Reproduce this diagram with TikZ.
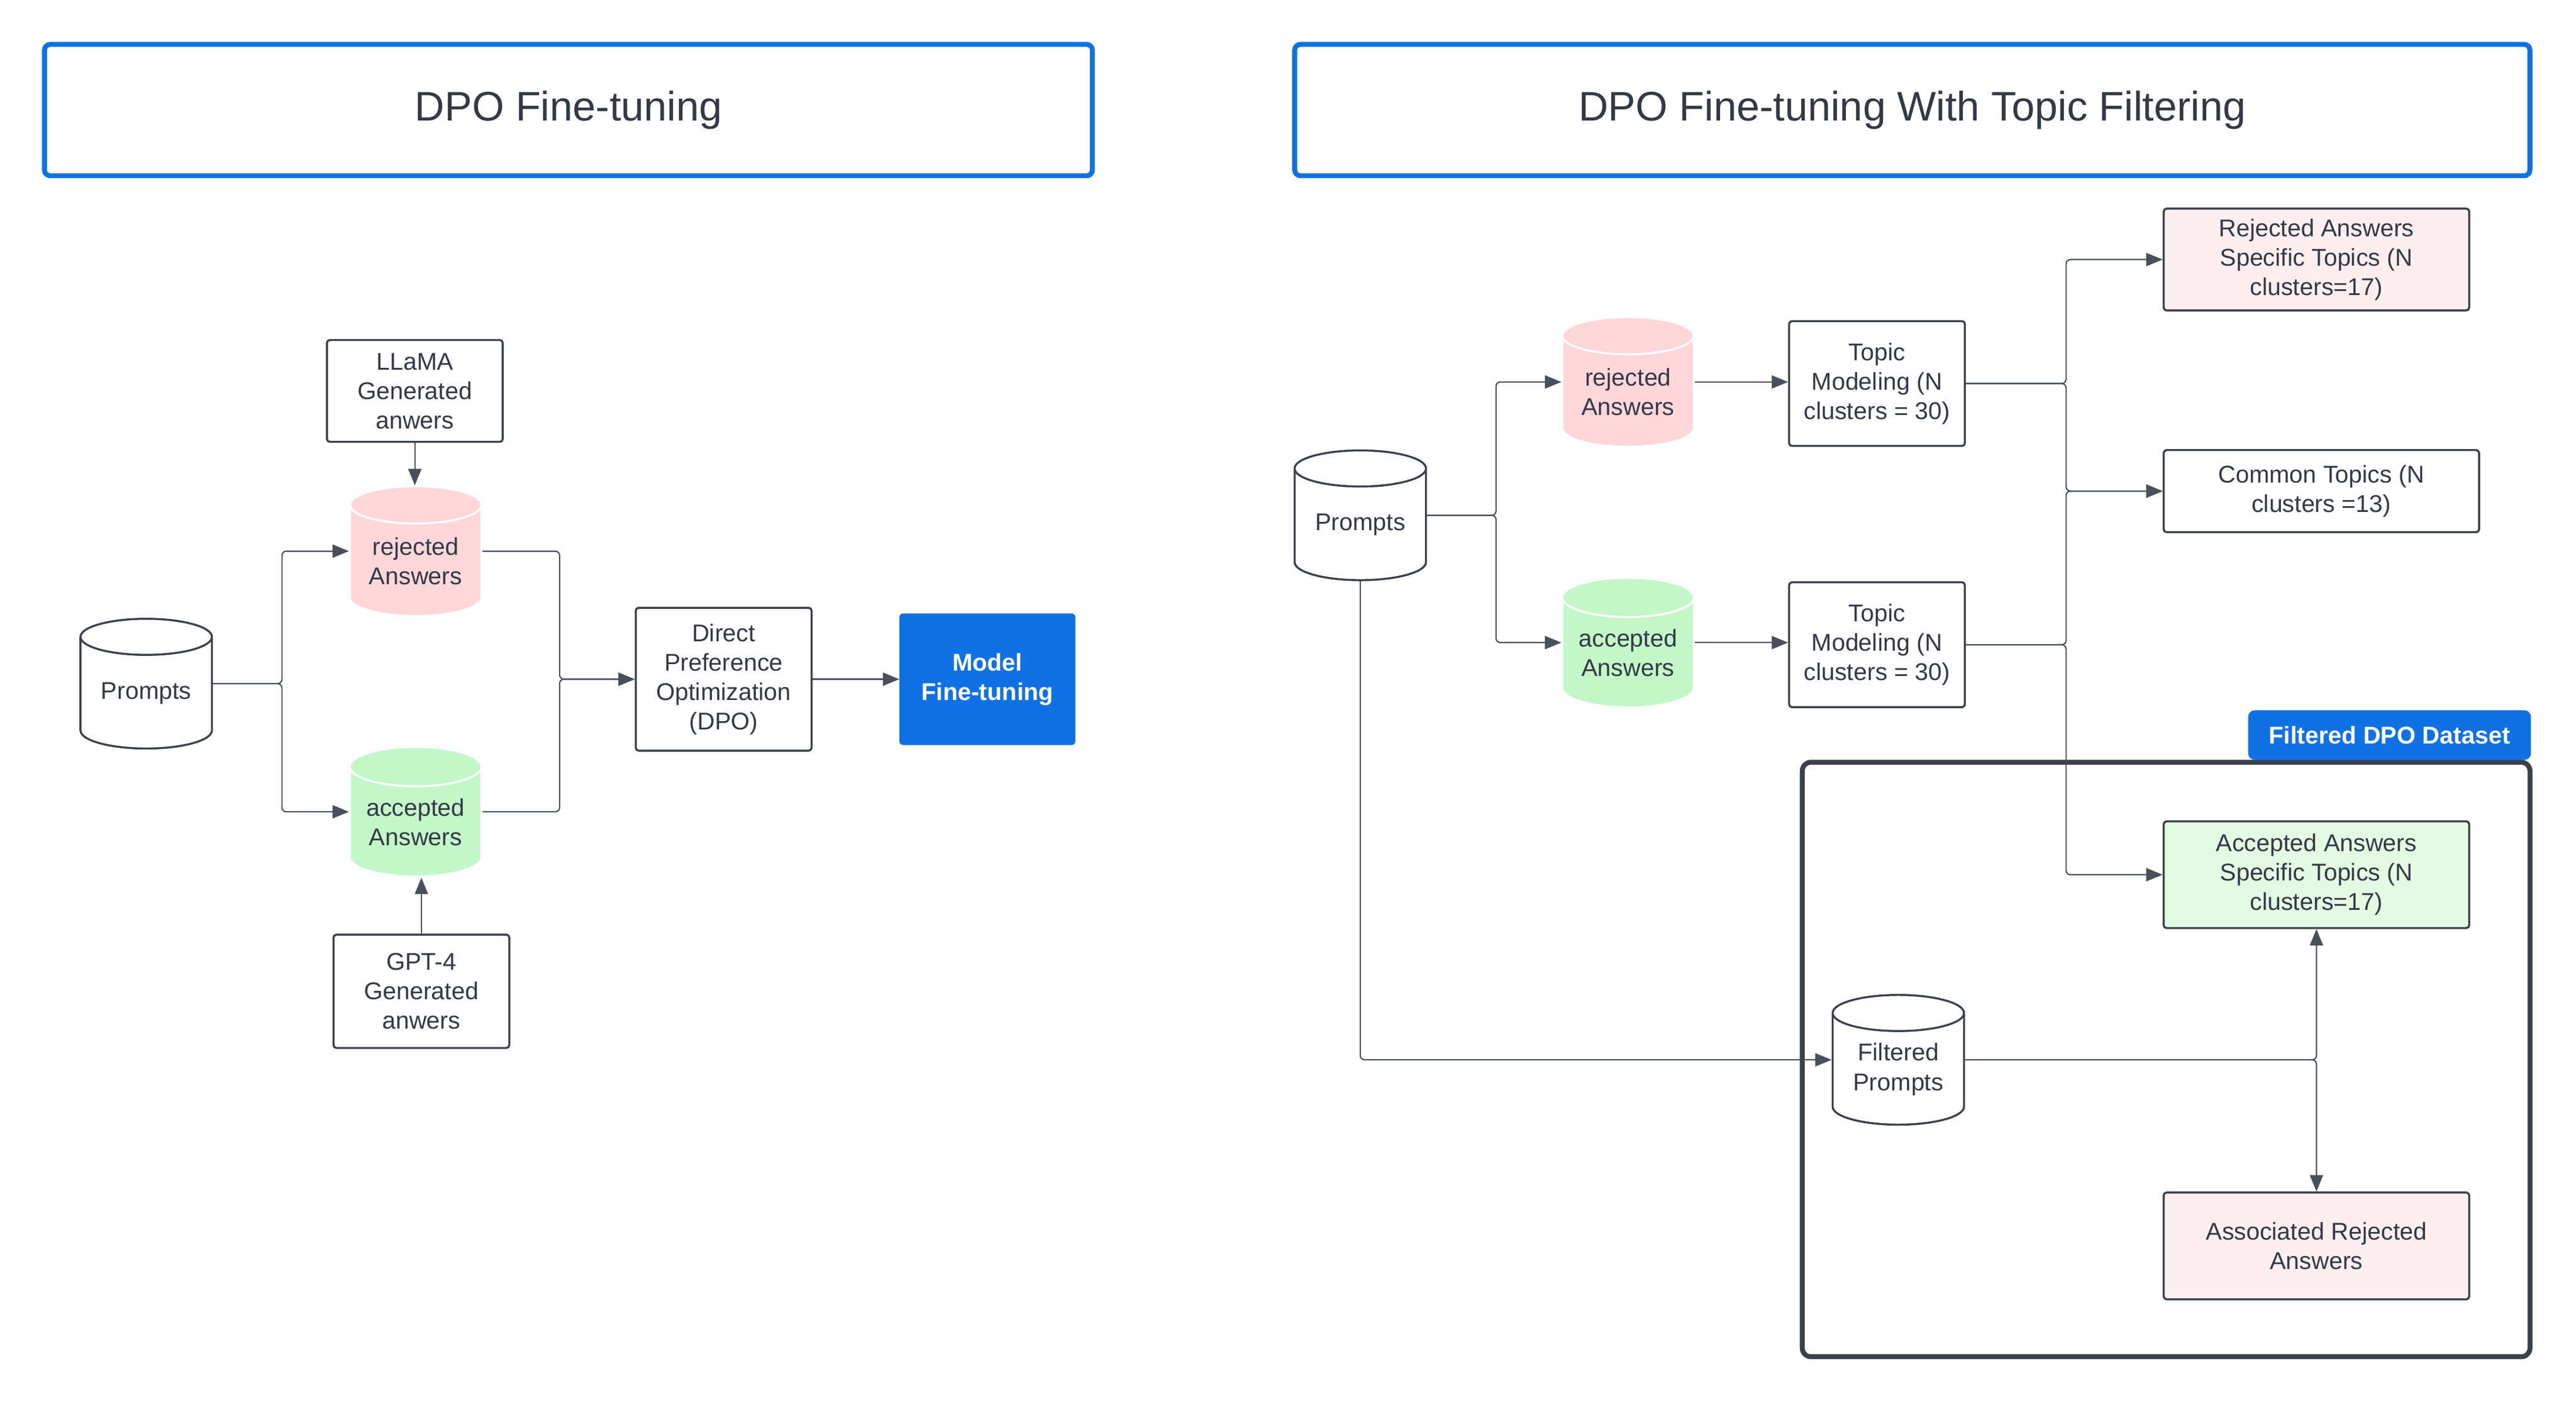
\documentclass[tikz,border=0pt]{standalone}
\usepackage{fontspec}
\setmainfont{Liberation Sans}
\usepackage{tikz}
\usetikzlibrary{arrows.meta,shapes.geometric}
\definecolor{lucidblue}{HTML}{1071E5}
\definecolor{textgray}{HTML}{333A45}
\definecolor{edgegray}{HTML}{3A414A}
\definecolor{linegray}{HTML}{4A505A}
\definecolor{pinkdb}{HTML}{FFD7DA}
\definecolor{greendb}{HTML}{C3F7C8}
\definecolor{pinkbox}{HTML}{FDEFEF}
\definecolor{greenbox}{HTML}{E3FAE3}
\tikzstyle{title}=[rectangle,draw=lucidblue,line width=1.7pt,rounded corners=2pt,text=textgray,font=\fontsize{14.3}{17}\selectfont,minimum width=12.76cm,minimum height=1.6cm]
\tikzstyle{box}=[rectangle,draw=edgegray,line width=0.7pt,rounded corners=1pt,align=center,text=textgray,font=\fontsize{8.4}{10.2}\selectfont,inner sep=0pt]
\tikzstyle{db}=[cylinder,shape border rotate=90,aspect=0.4,draw=edgegray,line width=0.7pt,minimum width=1.6cm,minimum height=1.58cm,align=center,text=textgray,font=\fontsize{8.4}{10.2}\selectfont,inner sep=0pt]
\tikzstyle{frame}=[rectangle,draw=edgegray,line width=1.7pt,rounded corners=3pt,minimum width=8.86cm,minimum height=7.24cm]
\tikzstyle{edge}=[-{Triangle[length=2mm,width=1.6mm]},draw=linegray,line width=0.45pt,rounded corners=1.5pt]

\begin{document}
\begin{tikzpicture}[x=0.02cm,y=-0.02cm]
        \useasboundingbox (0,0) rectangle (1568,854.1);

        % titles
        \node [title] (h1) at (346,67) {DPO Fine-tuning};
        \node [title,minimum width=15.04cm] (h2) at (1164,67) {DPO Fine-tuning With Topic Filtering};

        % plain DPO
        \node [db] (p1) at (89,422) {Prompts};
        \node [db,fill=pinkdb,draw=white] (r1) at (253,341.5) {rejected\\Answers};
        \node [db,fill=greendb,draw=white] (a1) at (253,500.5) {accepted\\Answers};
        \node [box,minimum width=2.14cm,minimum height=1.24cm] (l1) at (252.5,238) {LLaMA\\Generated\\anwers};
        \node [box,minimum width=2.14cm,minimum height=1.38cm] (g1) at (256.5,603.5) {GPT-4\\Generated\\anwers};
        \node [box,minimum width=2.14cm,minimum height=1.74cm] (d1) at (440.5,413.5) {Direct\\Preference\\Optimization\\(DPO)};
        \node [box,fill=lucidblue,draw=lucidblue,text=white,font=\fontsize{8.4}{10.2}\selectfont\bfseries,minimum width=2.12cm,minimum height=1.58cm] (m1) at (601,413.5) {Model\\Fine-tuning};

        \path [edge] (p1.shape center -| p1.east) -- ++(42,0) |- (r1.shape center -| r1.west);
        \path [edge] (p1.shape center -| p1.east) -- ++(42,0) |- (a1.shape center -| a1.west);
        \path [edge] (r1.shape center -| r1.east) -- ++(47,0) |- (d1.west);
        \path [edge] (a1.shape center -| a1.east) -- ++(47,0) |- (d1.west);
        \path [edge] (d1) -- (m1);
        \path [edge] (l1) -- (l1 |- r1.north);
        \path [edge] (g1) -- (g1 |- a1.south);

        % topic filtering
        \node [db] (p2) at (828,319.5) {Prompts};
        \node [db,fill=pinkdb,draw=white] (r2) at (991,238.5) {rejected\\Answers};
        \node [db,fill=greendb,draw=white] (a2) at (991,397.5) {accepted\\Answers};
        \node [box,minimum width=2.14cm,minimum height=1.52cm] (t1) at (1142.5,233.5) {Topic\\Modeling (N\\clusters = 30)};
        \node [box,minimum width=2.14cm,minimum height=1.52cm] (t2) at (1142.5,392.5) {Topic\\Modeling (N\\clusters = 30)};
        \node [box,fill=pinkbox,minimum width=3.72cm,minimum height=1.24cm] (rs) at (1410,158) {Rejected Answers\\Specific Topics (N\\clusters=17)};
        \node [box,minimum width=3.84cm,minimum height=1cm] (ct) at (1413,299) {Common Topics (N\\clusters =13)};

        \node [frame] (fr) at (1318.5,645) {};
        \node [box,fill=lucidblue,draw=lucidblue,rounded corners=2pt,text=white,font=\fontsize{8.4}{10.2}\selectfont\bfseries,minimum width=3.42cm,minimum height=0.58cm] (tg) at (1454.5,447.5) {Filtered DPO Dataset};
        \node [box,fill=greenbox,minimum width=3.72cm,minimum height=1.3cm] (as) at (1410,532.5) {Accepted Answers\\Specific Topics (N\\clusters=17)};
        \node [box,fill=pinkbox,minimum width=3.72cm,minimum height=1.3cm] (ar) at (1410,758.5) {Associated Rejected\\Answers};
        \node [db] (fp) at (1155.5,651) {Filtered\\Prompts};

        \path [edge] (p2.shape center -| p2.east) -- ++(42,0) |- (r2.shape center -| r2.west);
        \path [edge] (p2.shape center -| p2.east) -- ++(42,0) |- (a2.shape center -| a2.west);
        \path [edge] (r2.shape center -| r2.east) -- (r2.shape center -| t1.west);
        \path [edge] (a2.shape center -| a2.east) -- (a2.shape center -| t2.west);
        \path [edge] (t1.east) -- ++(61,0) |- (rs.west);
        \path [edge] (t1.east) -- ++(61,0) |- (ct.west);
        \path [edge] (t2.east) -- ++(61,0) |- (ct.west);
        \path [edge] (t2.east) -- ++(61,0) |- (as.west);
        \path [edge] (p2.south) |- (fp.shape center -| fp.west);
        \path [edge] (fp.shape center -| fp.east) -| (as.south);
        \path [edge] (fp.shape center -| fp.east) -| (ar.north);
      \end{tikzpicture}
\end{document}
